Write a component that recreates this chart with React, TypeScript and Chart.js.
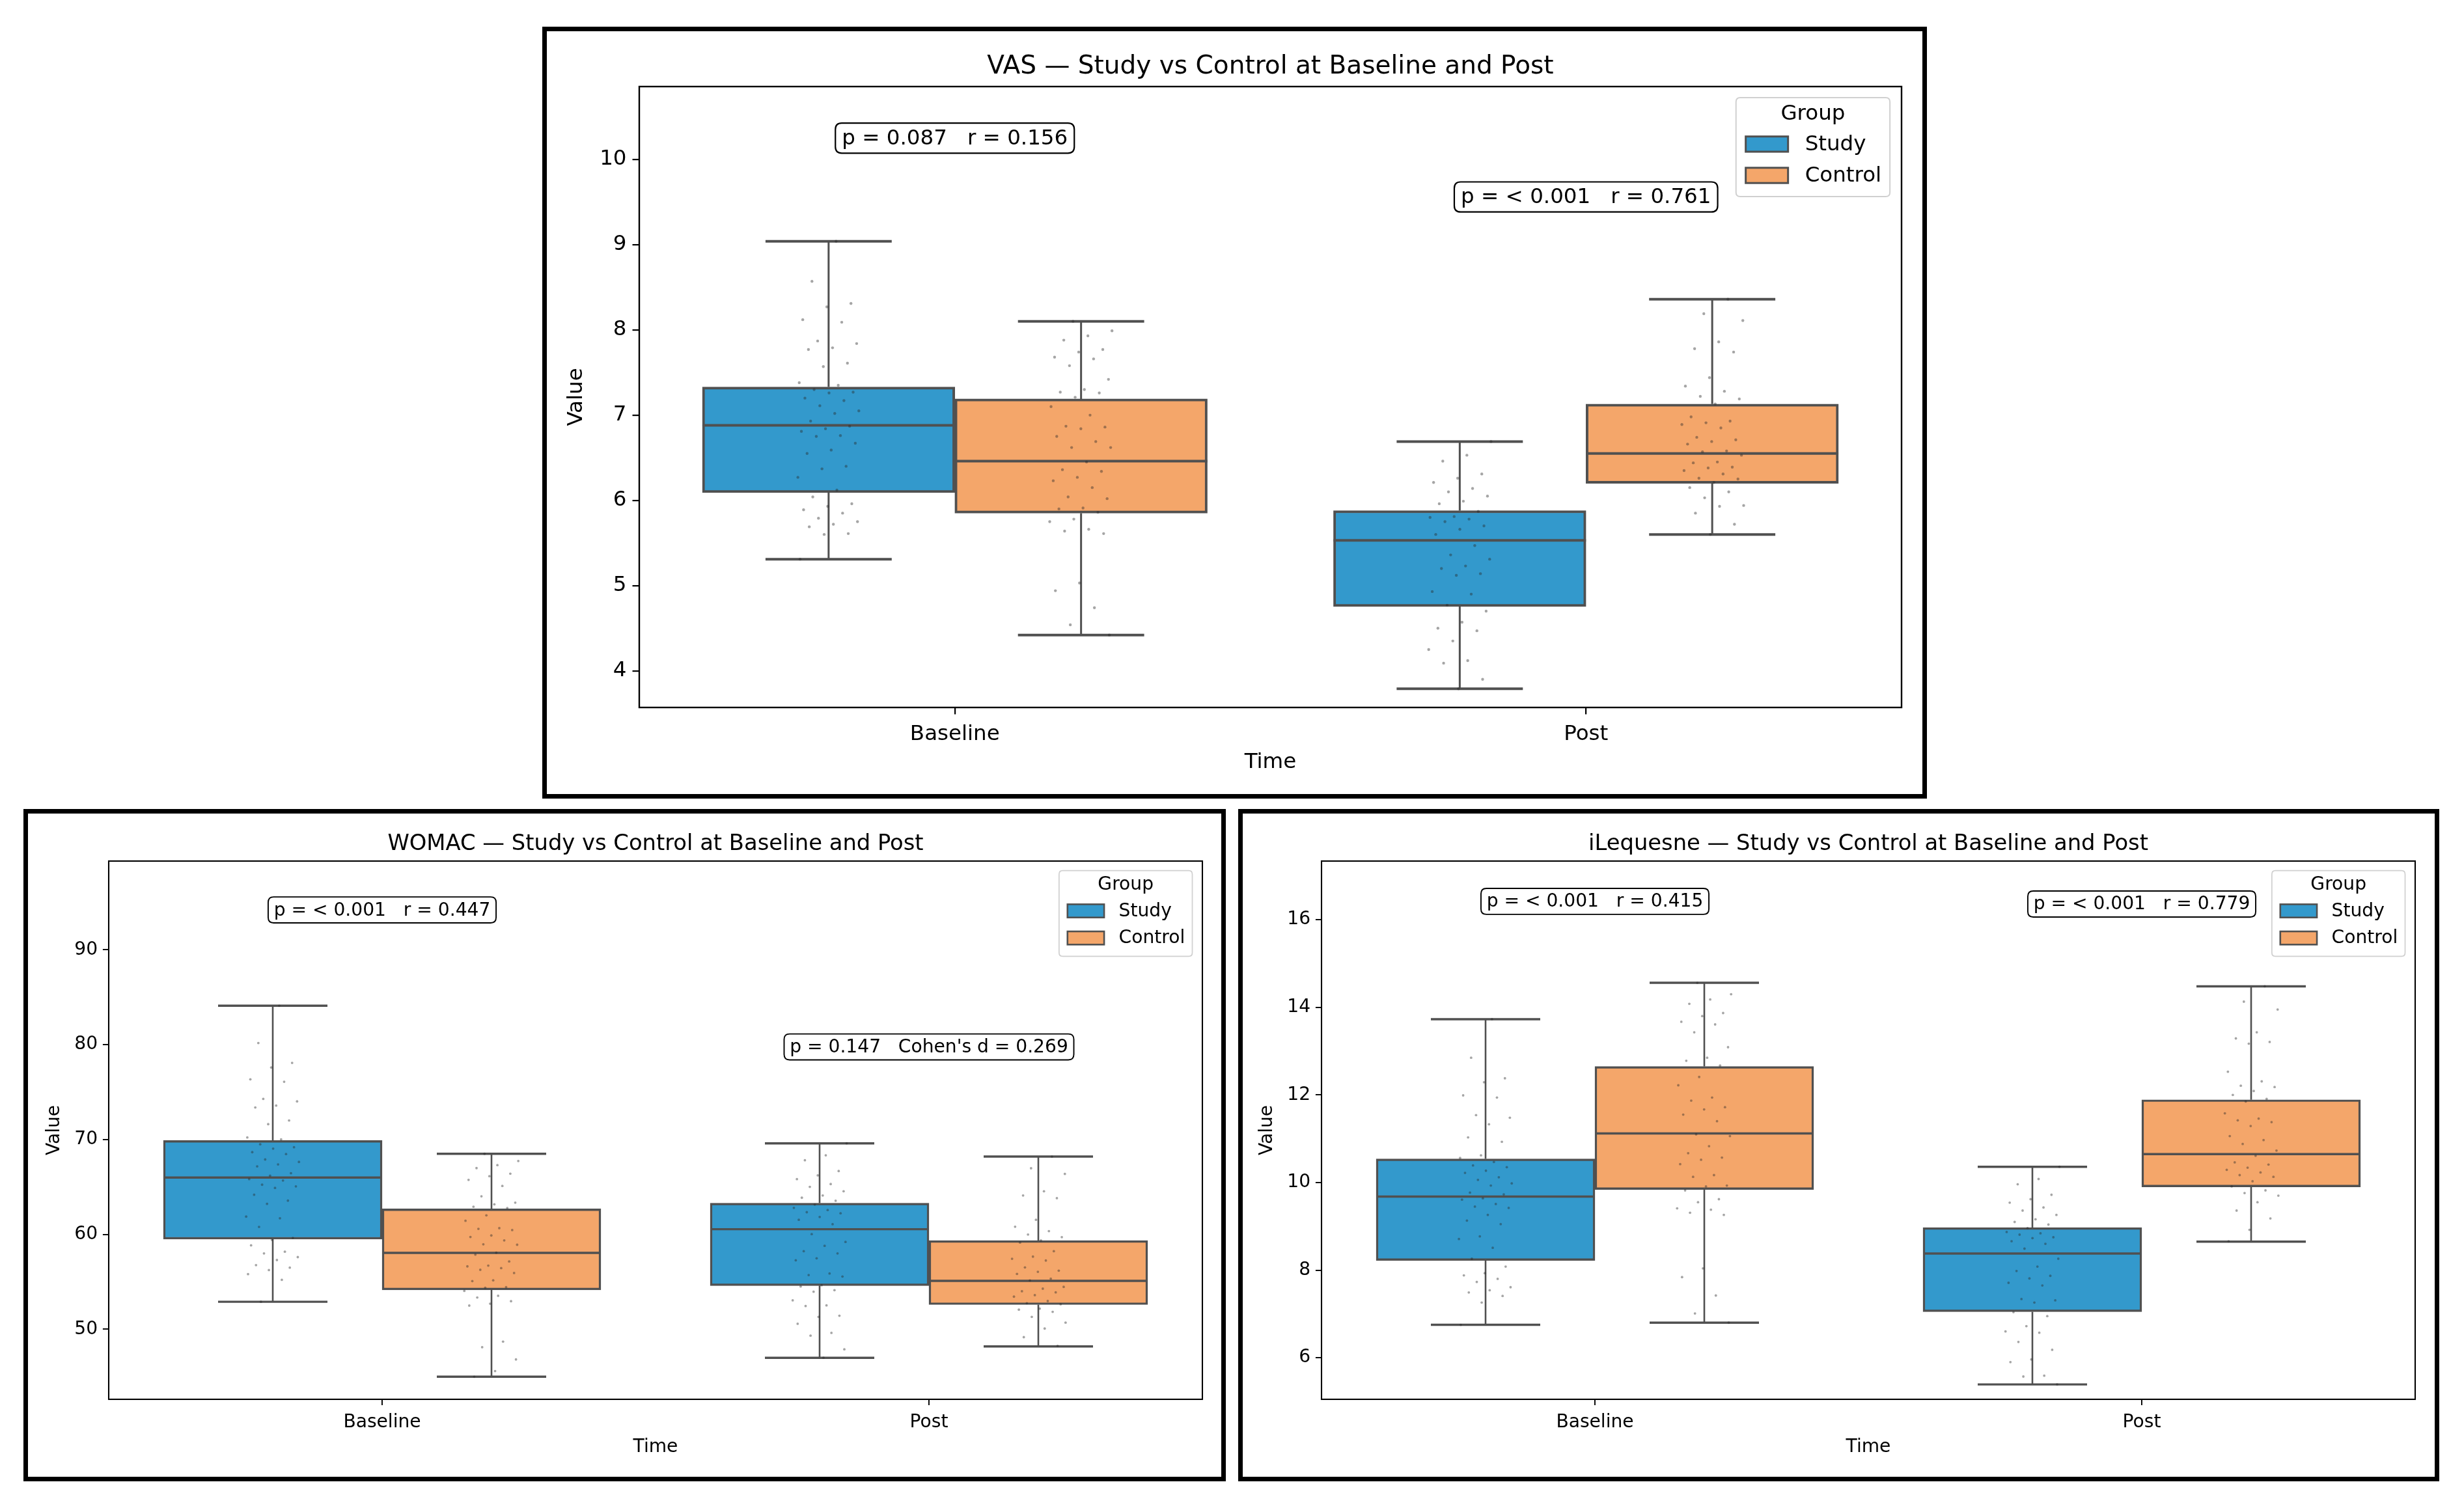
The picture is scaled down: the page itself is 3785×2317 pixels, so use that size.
import React, { useEffect, useRef } from 'react';
import { Chart, registerables } from 'chart.js';

Chart.register(...registerables);

// ---------- data ----------
const timePoints = ['Baseline', 'Post'];
const groupNames = ['Study', 'Control'];
const groupColors = ['#3399cc', '#f4a66a'];

// [whiskerLow, q1, median, q3, whiskerHigh] for Baseline, Post
const vasStudyBox = [[5.31, 6.09, 6.88, 7.33, 9.04], [3.79, 4.755, 5.53, 5.88, 6.69]];
const vasControlBox = [[4.42, 5.85, 6.46, 7.19, 8.10], [5.60, 6.20, 6.55, 7.13, 8.36]];
const womacStudyBox = [[52.9, 59.5, 66.0, 69.9, 84.1], [47.0, 54.6, 60.55, 63.3, 69.6]];
const womacControlBox = [[45.0, 54.15, 58.05, 62.7, 68.5], [48.2, 52.6, 55.1, 59.35, 68.2]];
const ileqStudyBox = [[6.75, 8.22, 9.68, 10.54, 13.73], [5.39, 7.05, 8.38, 8.97, 10.36]];
const ileqControlBox = [[6.80, 9.84, 11.12, 12.65, 14.56], [8.65, 9.90, 10.65, 11.89, 14.48]];

// individual observations (strip plot)
const vasStudyBaselinePts = [9.04, 8.57, 8.31, 8.27, 8.12, 8.09, 7.87, 7.84, 7.79, 7.77, 7.61, 7.57, 7.38, 7.35, 7.30, 7.27, 7.26, 7.20, 7.17, 7.11, 7.05, 7.02, 6.93, 6.87, 6.84, 6.81, 6.76, 6.75, 6.67, 6.59, 6.55, 6.40, 6.37, 6.27, 6.12, 6.04, 5.96, 5.93, 5.89, 5.85, 5.79, 5.75, 5.72, 5.69, 5.61, 5.60, 5.31];
const vasControlBaselinePts = [8.10, 7.99, 7.93, 7.88, 7.77, 7.74, 7.68, 7.66, 7.58, 7.42, 7.30, 7.27, 7.26, 7.21, 7.10, 7.00, 6.87, 6.86, 6.84, 6.75, 6.69, 6.62, 6.62, 6.45, 6.36, 6.34, 6.27, 6.23, 6.15, 6.04, 6.02, 5.91, 5.90, 5.86, 5.78, 5.75, 5.66, 5.64, 5.61, 5.03, 4.94, 4.74, 4.54, 4.42];
const vasStudyPostPts = [6.69, 6.53, 6.46, 6.31, 6.26, 6.21, 6.14, 6.10, 6.05, 5.99, 5.96, 5.87, 5.81, 5.80, 5.78, 5.75, 5.70, 5.66, 5.60, 5.47, 5.36, 5.31, 5.23, 5.20, 5.14, 5.12, 4.93, 4.90, 4.77, 4.70, 4.57, 4.50, 4.47, 4.35, 4.25, 4.12, 4.09, 3.90, 3.79];
const vasControlPostPts = [8.36, 8.19, 8.11, 7.86, 7.78, 7.74, 7.44, 7.34, 7.28, 7.22, 7.19, 7.13, 6.98, 6.93, 6.91, 6.89, 6.85, 6.74, 6.71, 6.69, 6.66, 6.58, 6.57, 6.53, 6.45, 6.44, 6.39, 6.38, 6.35, 6.31, 6.26, 6.25, 6.21, 6.15, 6.10, 6.03, 5.94, 5.93, 5.85, 5.72, 5.60];

const womacStudyBaselinePts = [84.1, 80.17, 78.08, 77.59, 76.35, 76.09, 74.28, 74.02, 73.58, 73.38, 72.01, 71.62, 70.22, 70.02, 69.50, 69.19, 69.04, 68.67, 68.47, 67.90, 67.64, 67.38, 67.17, 66.45, 66.19, 65.83, 65.68, 65.24, 65.06, 64.90, 64.18, 63.56, 63.22, 61.88, 61.70, 60.79, 59.63, 59.42, 58.85, 58.18, 58.00, 57.61, 57.30, 56.76, 56.50, 56.24, 55.81, 55.21, 52.9];
const womacControlBaselinePts = [68.5, 67.74, 67.30, 66.99, 66.40, 66.14, 65.75, 65.11, 64.02, 63.35, 63.17, 62.91, 62.78, 62.01, 61.44, 60.66, 60.59, 60.46, 59.89, 59.73, 59.37, 58.96, 58.91, 58.08, 57.87, 57.15, 56.71, 56.63, 56.45, 56.27, 55.93, 55.16, 55.08, 54.44, 54.38, 54.05, 53.53, 53.35, 52.96, 52.70, 52.50, 48.70, 48.11, 46.82, 45.60, 45.0];
const womacStudyPostPts = [69.6, 68.34, 67.82, 66.68, 66.22, 65.83, 65.31, 65.01, 64.55, 64.10, 63.87, 63.55, 63.14, 62.80, 62.57, 62.34, 62.23, 61.84, 61.54, 61.08, 60.03, 59.21, 58.80, 58.23, 58.00, 57.48, 57.27, 55.88, 55.72, 55.56, 54.65, 54.51, 54.12, 53.96, 53.05, 52.52, 52.45, 51.43, 51.31, 50.58, 49.62, 49.33, 47.89, 47.0];
const womacControlPostPts = [68.2, 66.97, 66.38, 64.55, 64.10, 63.82, 61.54, 60.81, 60.35, 59.99, 59.71, 59.37, 59.14, 58.23, 57.66, 57.43, 57.25, 56.52, 56.18, 56.06, 55.84, 55.33, 55.15, 54.47, 54.28, 54.01, 53.89, 53.60, 53.44, 52.98, 52.75, 52.64, 52.18, 52.07, 51.84, 51.31, 50.70, 50.08, 49.17, 48.26];

const ileqStudyBaselinePts = [13.73, 12.85, 12.38, 12.29, 11.99, 11.94, 11.54, 11.48, 11.33, 11.03, 10.93, 10.62, 10.56, 10.47, 10.39, 10.35, 10.27, 10.22, 10.12, 10.06, 9.98, 9.93, 9.77, 9.73, 9.64, 9.61, 9.51, 9.45, 9.42, 9.26, 9.13, 9.05, 8.77, 8.71, 8.51, 8.26, 8.08, 7.93, 7.88, 7.80, 7.73, 7.61, 7.54, 7.49, 7.41, 7.26, 6.75];
const ileqControlBaselinePts = [14.56, 14.30, 14.18, 14.08, 13.87, 13.80, 13.67, 13.61, 13.43, 13.09, 12.85, 12.78, 12.67, 12.41, 12.22, 11.94, 11.87, 11.72, 11.67, 11.55, 11.40, 11.10, 11.06, 10.83, 10.67, 10.57, 10.52, 10.42, 10.17, 10.13, 9.93, 9.91, 9.82, 9.62, 9.55, 9.41, 9.38, 9.31, 9.26, 8.04, 7.84, 7.42, 7.01, 6.80];
const ileqStudyPostPts = [10.36, 10.08, 9.96, 9.72, 9.62, 9.54, 9.43, 9.36, 9.26, 9.16, 9.10, 9.04, 8.96, 8.87, 8.84, 8.81, 8.75, 8.73, 8.66, 8.60, 8.49, 8.26, 8.08, 7.98, 7.87, 7.81, 7.71, 7.65, 7.34, 7.31, 7.26, 7.04, 6.95, 6.72, 6.60, 6.57, 6.36, 6.18, 5.96, 5.90, 5.59, 5.57, 5.39];
const ileqControlPostPts = [14.48, 14.13, 13.95, 13.43, 13.29, 13.21, 13.17, 12.53, 12.31, 12.21, 12.18, 12.09, 12.00, 11.91, 11.85, 11.58, 11.46, 11.42, 11.38, 11.29, 11.06, 10.97, 10.88, 10.73, 10.61, 10.46, 10.41, 10.34, 10.29, 10.23, 10.17, 10.13, 10.03, 9.91, 9.82, 9.76, 9.70, 9.55, 9.36, 9.18, 8.92, 8.66];

const vasTicks = [4, 5, 6, 7, 8, 9, 10];
const womacTicks = [50, 60, 70, 80, 90];
const ileqTicks = [6, 8, 10, 12, 14, 16];

const vasRange = [3.57, 10.855];
const womacRange = [42.62, 99.35];
const ileqRange = [5.05, 17.34];

const vasAnnotText = ['p = 0.087   r = 0.156', 'p = < 0.001   r = 0.761'];
const vasAnnotY = [10.25, 9.56];
const womacAnnotText = ['p = < 0.001   r = 0.447', "p = 0.147   Cohen's d = 0.269"];
const womacAnnotY = [94.2, 79.76];
const ileqAnnotText = ['p = < 0.001   r = 0.415', 'p = < 0.001   r = 0.779'];
const ileqAnnotY = [16.42, 16.36];

// ---------- layout ----------
const FONT = "'DejaVu Sans', 'Liberation Sans', sans-serif";
const EDGE = '#505050';
const BORDER = 7;
const DODGE = 0.2; // half of the 0.8 category width used by the two boxes

type Panel = {
  title: string;
  boxes: number[][][];
  pts: number[][][];
  ticks: number[];
  range: number[];
  annotText: string[];
  annotY: number[];
  left: number; top: number; width: number; height: number;
  plotL: number; plotT: number; plotR: number; plotB: number;
  s: number;
};

const PANELS: Panel[] = [
  {
    title: 'VAS \u2014 Study vs Control at Baseline and Post',
    boxes: [vasStudyBox, vasControlBox],
    pts: [[vasStudyBaselinePts, vasStudyPostPts], [vasControlBaselinePts, vasControlPostPts]],
    ticks: vasTicks, range: vasRange, annotText: vasAnnotText, annotY: vasAnnotY,
    left: 833, top: 41, width: 2127, height: 1186,
    plotL: 982, plotT: 133, plotR: 2921, plotB: 1087, s: 1,
  },
  {
    title: 'WOMAC \u2014 Study vs Control at Baseline and Post',
    boxes: [womacStudyBox, womacControlBox],
    pts: [[womacStudyBaselinePts, womacStudyPostPts], [womacControlBaselinePts, womacControlPostPts]],
    ticks: womacTicks, range: womacRange, annotText: womacAnnotText, annotY: womacAnnotY,
    left: 36, top: 1243, width: 1847, height: 1033,
    plotL: 167, plotT: 1323, plotR: 1847, plotB: 2150, s: 0.866,
  },
  {
    title: 'iLequesne \u2014 Study vs Control at Baseline and Post',
    boxes: [ileqStudyBox, ileqControlBox],
    pts: [[ileqStudyBaselinePts, ileqStudyPostPts], [ileqControlBaselinePts, ileqControlPostPts]],
    ticks: ileqTicks, range: ileqRange, annotText: ileqAnnotText, annotY: ileqAnnotY,
    left: 1902, top: 1243, width: 1845, height: 1033,
    plotL: 2030, plotT: 1323, plotR: 3710, plotB: 2150, s: 0.866,
  },
];

// deterministic horizontal jitter for the strip plot (presentation only)
function jitter(i: number, g: number) {
  const f = ((i + 1) * 0.6180339887 + g * 0.377) % 1;
  return (f - 0.5) * 0.1;
}

function roundRect(ctx: CanvasRenderingContext2D, x: number, y: number, w: number, h: number, r: number) {
  ctx.beginPath();
  ctx.moveTo(x + r, y);
  ctx.lineTo(x + w - r, y);
  ctx.quadraticCurveTo(x + w, y, x + w, y + r);
  ctx.lineTo(x + w, y + h - r);
  ctx.quadraticCurveTo(x + w, y + h, x + w - r, y + h);
  ctx.lineTo(x + r, y + h);
  ctx.quadraticCurveTo(x, y + h, x, y + h - r);
  ctx.lineTo(x, y + r);
  ctx.quadraticCurveTo(x, y, x + r, y);
  ctx.closePath();
}

function makeChart(canvas: HTMLCanvasElement, p: Panel) {
  const s = p.s;
  const fs = 32.5 * s;
  const titleFs = 39 * s;
  const innerL = p.left + BORDER;
  const innerT = p.top + BORDER;
  const cw = p.width - 2 * BORDER;
  const ch = p.height - 2 * BORDER;
  const yAxisW = p.plotL - innerL;
  const padTop = p.plotT - innerT;
  const padRight = innerL + cw - p.plotR;
  const xAxisH = innerT + ch - p.plotB;
  const lh = fs * 1.2;
  const yTitleDist = 96.6 * s;
  const xTitleDist = 84.7 * s;
  const offs = [-DODGE, DODGE];

  const scatter: { x: number; y: number }[] = [];
  p.pts.forEach((groupPts, g) => {
    groupPts.forEach((vals, t) => {
      vals.forEach((v, i) => {
        scatter.push({ x: t + offs[g] + jitter(i, g * 2 + t), y: v });
      });
    });
  });

  const extras = {
    id: 'boxExtras',
    afterDatasetDraw(chart: any, args: any) {
      if (args.index > 1) return;
      const ctx = chart.ctx as CanvasRenderingContext2D;
      const ys = chart.scales.y;
      const meta = chart.getDatasetMeta(args.index);
      const stats = p.boxes[args.index];
      ctx.save();
      ctx.strokeStyle = EDGE;
      ctx.lineCap = 'butt';
      meta.data.forEach((el: any, i: number) => {
        const st = stats[i];
        const x = el.x;
        const w = el.width;
        const yMin = ys.getPixelForValue(st[0]);
        const yQ1 = ys.getPixelForValue(st[1]);
        const yMed = ys.getPixelForValue(st[2]);
        const yQ3 = ys.getPixelForValue(st[3]);
        const yMax = ys.getPixelForValue(st[4]);
        ctx.lineWidth = 3 * s;
        ctx.beginPath();
        ctx.moveTo(x, yQ3); ctx.lineTo(x, yMax);
        ctx.moveTo(x, yQ1); ctx.lineTo(x, yMin);
        ctx.stroke();
        ctx.lineWidth = 4 * s;
        ctx.beginPath();
        ctx.moveTo(x - w / 4, yMax); ctx.lineTo(x + w / 4, yMax);
        ctx.moveTo(x - w / 4, yMin); ctx.lineTo(x + w / 4, yMin);
        ctx.moveTo(x - w / 2, yMed); ctx.lineTo(x + w / 2, yMed);
        ctx.stroke();
      });
      ctx.restore();
    },
    afterDraw(chart: any) {
      const ctx = chart.ctx as CanvasRenderingContext2D;
      const a = chart.chartArea;
      const xs = chart.scales.x;
      const ys = chart.scales.y;
      ctx.save();
      // spines
      ctx.strokeStyle = '#000';
      ctx.lineWidth = 2.4 * s;
      ctx.strokeRect(a.left, a.top, a.right - a.left, a.bottom - a.top);
      // title
      ctx.fillStyle = '#000';
      ctx.font = `${titleFs}px ${FONT}`;
      ctx.textAlign = 'center';
      ctx.textBaseline = 'alphabetic';
      ctx.fillText(p.title, (a.left + a.right) / 2, a.top - 20 * s);
      // annotations
      ctx.font = `${fs}px ${FONT}`;
      p.annotText.forEach((txt, i) => {
        const cx = xs.getPixelForValue(i);
        const cy = ys.getPixelForValue(p.annotY[i]);
        const tw = ctx.measureText(txt).width;
        const bw = tw + 0.62 * fs;
        const bh = 1.42 * fs;
        roundRect(ctx, cx - bw / 2, cy - bh / 2, bw, bh, 0.3 * fs);
        ctx.fillStyle = '#fff';
        ctx.fill();
        ctx.strokeStyle = '#000';
        ctx.lineWidth = 2.2 * s;
        ctx.stroke();
        ctx.fillStyle = '#000';
        ctx.textAlign = 'center';
        ctx.textBaseline = 'middle';
        ctx.fillText(txt, cx, cy + 0.04 * fs);
      });
      // legend
      const tW = Math.max(...groupNames.map((g) => ctx.measureText(g).width), ctx.measureText('Group').width);
      const lw = tW + 3.66 * fs;
      const lhgt = 4.68 * fs;
      const lx = a.right - 0.55 * fs - lw;
      const ly = a.top + 0.52 * fs;
      roundRect(ctx, lx, ly, lw, lhgt, 0.2 * fs);
      ctx.fillStyle = 'rgba(255,255,255,0.8)';
      ctx.fill();
      ctx.strokeStyle = '#d0d0d0';
      ctx.lineWidth = 2 * s;
      ctx.stroke();
      ctx.fillStyle = '#000';
      ctx.textAlign = 'center';
      ctx.textBaseline = 'middle';
      ctx.fillText('Group', lx + lw / 2, ly + 0.8 * fs);
      groupNames.forEach((g, gi) => {
        const cy = ly + (2.2 + gi * 1.48) * fs;
        const sx = lx + 0.46 * fs;
        ctx.fillStyle = groupColors[gi];
        ctx.fillRect(sx, cy - 0.36 * fs, 2 * fs, 0.72 * fs);
        ctx.strokeStyle = EDGE;
        ctx.lineWidth = 3 * s;
        ctx.strokeRect(sx, cy - 0.36 * fs, 2 * fs, 0.72 * fs);
        ctx.fillStyle = '#000';
        ctx.textAlign = 'left';
        ctx.fillText(g, sx + 2.8 * fs, cy + 0.03 * fs);
      });
      ctx.restore();
    },
  };

  const tickFont = { family: FONT, size: fs };

  return new Chart(canvas, {
    type: 'scatter',
    data: {
      datasets: [
        ...groupNames.map((name, g) => ({
          type: 'bar' as const,
          label: name,
          data: p.boxes[g].map((st, t) => ({ x: t + offs[g], y: [st[1], st[3]] })),
          backgroundColor: groupColors[g],
          borderColor: EDGE,
          borderWidth: 4 * s,
          borderSkipped: false,
          grouped: false,
          categoryPercentage: 1,
          barPercentage: 1,
          xAxisID: 'x',
          yAxisID: 'y',
          order: 2,
        })),
        {
          type: 'scatter' as const,
          label: 'obs',
          data: scatter,
          xAxisID: 'x',
          yAxisID: 'y',
          pointRadius: 2.2 * s,
          pointBorderWidth: 0,
          pointBackgroundColor: 'rgba(40,40,40,0.42)',
          order: 1,
        } as any,
      ],
    },
    options: {
      responsive: false,
      maintainAspectRatio: false,
      animation: false,
      devicePixelRatio: 1,
      events: [],
      layout: { padding: { top: padTop, right: padRight, left: 0, bottom: 0 } },
      plugins: {
        legend: { display: false },
        title: { display: false },
        tooltip: { enabled: false },
      },
      scales: {
        x: {
          type: 'linear',
          min: -0.5,
          max: 1.5,
          offset: false,
          afterBuildTicks: (sc: any) => { sc.ticks = timePoints.map((_, i) => ({ value: i })); },
          afterFit: (sc: any) => { sc.height = xAxisH; },
          ticks: {
            font: tickFont, color: '#000', padding: 11.5 * s, maxRotation: 0, autoSkip: false,
            callback: (v: any) => timePoints[Math.round(Number(v))] ?? '',
          },
          grid: { offset: false, drawOnChartArea: false, drawTicks: true, tickLength: 10.5 * s, color: '#000', lineWidth: 2.2 * s },
          border: { display: false },
          title: {
            display: true, text: 'Time', font: tickFont, color: '#000',
            padding: { top: 0, bottom: xAxisH - xTitleDist - lh / 2 },
          },
        },
        y: {
          type: 'linear',
          min: p.range[0],
          max: p.range[1],
          afterBuildTicks: (sc: any) => { sc.ticks = p.ticks.map((v) => ({ value: v })); },
          afterFit: (sc: any) => { sc.width = yAxisW; },
          ticks: { font: tickFont, color: '#000', padding: 9 * s },
          grid: { drawOnChartArea: false, drawTicks: true, tickLength: 10.5 * s, color: '#000', lineWidth: 2.2 * s },
          border: { display: false },
          title: {
            display: true, text: 'Value', font: tickFont, color: '#000',
            padding: { top: yAxisW - yTitleDist - lh / 2, bottom: 0 },
          },
        },
      } as any,
    },
    plugins: [extras as any],
  });
}

export default function App() {
  const r0 = useRef<HTMLCanvasElement>(null);
  const r1 = useRef<HTMLCanvasElement>(null);
  const r2 = useRef<HTMLCanvasElement>(null);
  const refs = [r0, r1, r2];

  useEffect(() => {
    const charts = PANELS.map((p, i) => makeChart(refs[i].current as HTMLCanvasElement, p));
    return () => charts.forEach((c) => c.destroy());
  }, []);

  return (
    <div style={{ position: 'absolute', left: 0, top: 0, width: 3785, height: 2317, background: '#fff', overflow: 'hidden' }}>
      {PANELS.map((p, i) => (
        <div
          key={i}
          style={{
            position: 'absolute', left: p.left, top: p.top, width: p.width, height: p.height,
            border: `${BORDER}px solid #000`, boxSizing: 'border-box',
          }}
        >
          <canvas
            ref={refs[i]}
            width={p.width - 2 * BORDER}
            height={p.height - 2 * BORDER}
            style={{ display: 'block', width: p.width - 2 * BORDER, height: p.height - 2 * BORDER }}
          />
        </div>
      ))}
    </div>
  );
}
